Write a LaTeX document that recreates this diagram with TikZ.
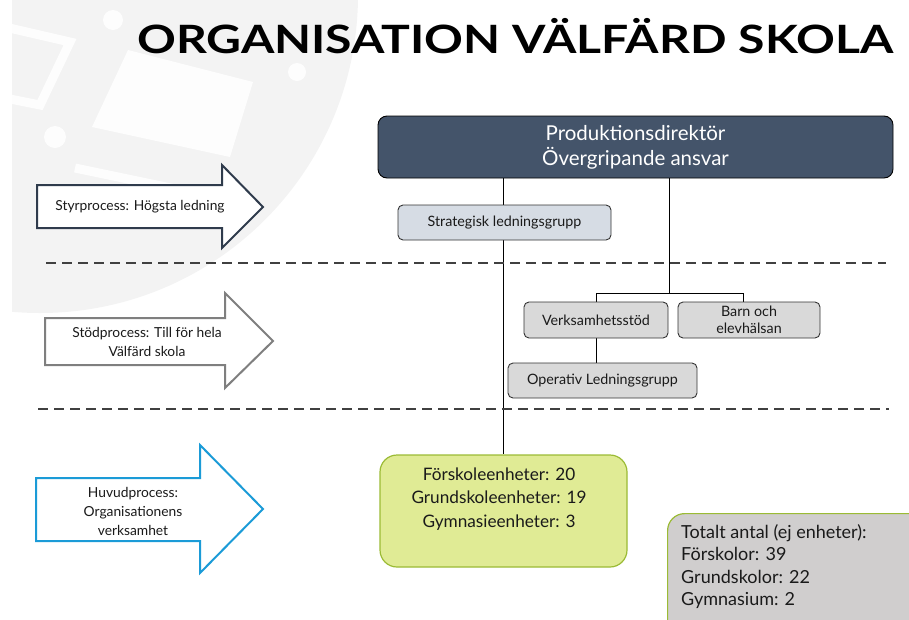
\documentclass[tikz,border=0pt]{standalone}
\usepackage{fontspec}
\setmainfont{Lato}
\usetikzlibrary{calc,backgrounds}
\definecolor{navy}{HTML}{44546A}
\definecolor{navyline}{HTML}{2F3B4C}
\definecolor{stratfill}{HTML}{D6DCE4}
\definecolor{greyfill}{HTML}{D9D9D9}
\definecolor{greenfill}{HTML}{E0EB95}
\definecolor{greenline}{HTML}{9BBB35}
\definecolor{totfill}{HTML}{D0CECE}
\definecolor{arrowblue}{HTML}{1B9BD7}
\definecolor{arrowgrey}{HTML}{7F7F7F}
\definecolor{txt}{HTML}{1A1A1A}
\definecolor{wm}{HTML}{F3F3F3}
\definecolor{wmlight}{HTML}{FDFDFD}
\tikzset{
  orgbox/.style={draw=black!80, line width=0.9pt, rounded corners=5pt, align=center, inner sep=0pt, text=txt},
  topbox/.style={orgbox, fill=navy, draw=black, text=white, rounded corners=9pt,
    font=\fontsize{20.5}{25}\selectfont},
  subbox/.style={orgbox, font=\fontsize{14.3}{18}\selectfont},
  procarrow/.style={line width=2pt, fill=white, line join=miter},
  proctext/.style={align=center, text=txt, font=\fontsize{13.8}{19.5}\selectfont},
  conn/.style={draw=black, line width=0.9pt},
  sepline/.style={draw=black!75, line width=1.4pt, dash pattern=on 10pt off 6pt},
  numtext/.style={align=center, text=txt, inner sep=0pt, font=\fontsize{17.2}{23.5}\selectfont},
}
\begin{document}
\begin{tikzpicture}[x=1pt,y=-1pt]
\useasboundingbox (0,0) rectangle (909,619);
% watermark
\begin{scope}
  \clip (12,0) rectangle (909,619);
  \fill[wm] (40,-5) circle (318);
  \fill[wmlight] (128,50) -- (253,82) -- (230,157) -- (92,127) -- cycle;
  \fill[wmlight] (113,20) circle (10);
  \fill[wmlight] (297,72) circle (9);
  \fill[wmlight] (55,137) circle (11);
  \draw[wmlight, line width=9pt] (5,27) -- (70,42) -- (40,105) -- (5,98);
  \draw[wmlight, line width=9pt] (75,168) -- (190,192);
\end{scope}
% title
\node[anchor=base west, inner sep=0pt, text=black] (title) at (137,53)
  {\resizebox{756pt}{\height}{\fontsize{39}{42}\selectfont\bfseries ORGANISATION VÄLFÄRD SKOLA}};
% process arrows
\draw[procarrow, draw=navyline] (37,185) -- (222,185) -- (222,165) -- (263,207) -- (222,248) -- (222,228) -- (37,228) -- cycle;
\node[proctext] (styr) at (140,207) {Styrprocess: Högsta ledning};
\draw[procarrow, draw=arrowgrey] (45,318) -- (225,318) -- (225,293) -- (273,341) -- (225,388) -- (225,365) -- (45,365) -- cycle;
\node[proctext] (stod) at (147,342) {Stödprocess: Till för hela\\Välfärd skola};
\draw[procarrow, draw=arrowblue] (36,478) -- (200,478) -- (200,445) -- (263,509) -- (200,573) -- (200,541) -- (36,541) -- cycle;
\node[proctext, font=\fontsize{13.8}{19}\selectfont] (huvud) at (133,511) {Huvudprocess:\\Organisationens\\verksamhet};
% separators
\draw[sepline] (46,263) -- (886,263);
\draw[sepline] (38,409) -- (889,409);
% boxes
\node[topbox, minimum width=515pt, minimum height=62pt] (pd) at (635.5,147) {Produktionsdirektör\\Övergripande ansvar};
\node[subbox, fill=stratfill, minimum width=213pt, minimum height=35pt] (strat) at (504.5,222.5) {Strategisk ledningsgrupp};
\node[subbox, fill=greyfill, minimum width=144pt, minimum height=36pt] (verks) at (596,320) {Verksamhetsstöd};
\node[subbox, fill=greyfill, minimum width=142pt, minimum height=36pt, font=\fontsize{14.3}{17.5}\selectfont] (barn) at (749,320) {Barn och\\elevhälsan};
\node[subbox, fill=greyfill, minimum width=189pt, minimum height=35pt] (oper) at (602.5,380.5) {Operativ Ledningsgrupp};
\node[orgbox, fill=greenfill, draw=greenline, line width=1.2pt, rounded corners=17pt, minimum width=247pt, minimum height=112pt] (green) at (503.5,511) {};
\node[numtext] (greentext) at (499,499) {Förskoleenheter: 20\\Grundskoleenheter: 19\\Gymnasieenheter: 3};
\begin{scope}
  \clip (0,0) rectangle (909,619);
  \node[orgbox, fill=totfill, draw=greenline, line width=1.2pt, rounded corners=17pt, minimum width=270pt, minimum height=130pt, anchor=north west] (tot) at (667,513) {};
\end{scope}
\node[align=left, anchor=north west, inner sep=0pt, text=txt, font=\fontsize{18}{22.5}\selectfont] (tottext) at (681,524) {Totalt antal (ej enheter):\\Förskolor: 39\\Grundskolor: 22\\Gymnasium: 2};
% connectors (behind boxes)
\coordinate (j) at (669,293);
\coordinate (bt) at ($(barn.north)+(-6,0)$);
\begin{scope}[on background layer]
  \draw[conn] (pd.south -| green.north) -- (green.north);
  \draw[conn] (pd.south -| j) -- (j);
  \draw[conn] (verks.north) -- (verks.north |- j) -- (bt |- j) -- (bt);
  \draw[conn] (verks.south) -- (verks.south |- oper.north);
\end{scope}
\end{tikzpicture}
\end{document}
